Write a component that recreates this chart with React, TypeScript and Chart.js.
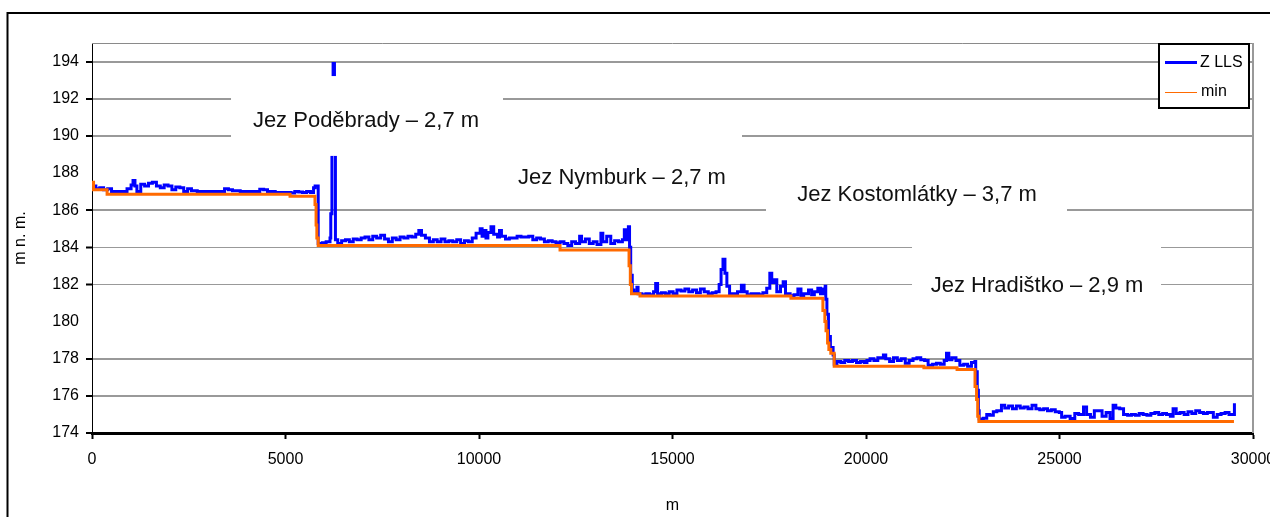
import { useEffect, useRef } from "react";
import Chart from "chart.js/auto";

// Distance along the river [m] and water level [m n. m.]
// Z LLS profile, split by reach between the weirs
const zllsReach1: [number, number][] = [
  [0, 187.3], [100, 187.15], [200, 187.2], [300, 187.1], [405, 187.15], [505, 187.0], [705, 187.0],
  [905, 187.15], [1010, 187.35], [1060, 187.6], [1110, 187.3], [1160, 187.0], [1260, 187.4],
  [1360, 187.3], [1460, 187.45], [1560, 187.5], [1665, 187.3], [1765, 187.2], [1865, 187.35],
  [1965, 187.3], [2065, 187.1], [2165, 187.25], [2270, 187.2], [2370, 187.0], [2470, 187.15],
  [2570, 187.05], [2720, 187.0], [3025, 187.0], [3225, 187.0], [3425, 187.15], [3525, 187.1],
  [3630, 187.05], [3830, 187.0], [4030, 187.0], [4235, 187.0], [4335, 187.12], [4435, 187.1],
  [4535, 187.0], [4735, 186.95], [4940, 186.95], [5040, 186.95], [5140, 186.92], [5240, 187.0],
  [5340, 186.98], [5440, 186.95], [5545, 187.0], [5645, 186.95], [5725, 187.2], [5765, 187.3],
];
const zllsReach2: [number, number][] = [
  [5845, 184.2], [5950, 184.25], [6050, 184.3], [6150, 184.5], [6170, 185.8], [6200, 189.0],
  [6230, 193.9], [6265, 189.0], [6290, 184.4], [6350, 184.2], [6450, 184.35], [6550, 184.4],
  [6650, 184.3], [6750, 184.45], [6850, 184.4], [6955, 184.5], [7055, 184.55], [7155, 184.4],
  [7255, 184.6], [7355, 184.5], [7460, 184.65], [7560, 184.45], [7660, 184.3], [7760, 184.5],
  [7860, 184.4], [7960, 184.55], [8060, 184.5], [8165, 184.6], [8265, 184.55], [8365, 184.7],
  [8445, 184.9], [8515, 184.65], [8615, 184.5], [8720, 184.3], [8820, 184.4], [8920, 184.3],
  [9020, 184.45], [9120, 184.3], [9220, 184.35], [9320, 184.3], [9425, 184.4], [9525, 184.2],
  [9625, 184.35], [9725, 184.3], [9825, 184.5], [9925, 184.75], [10030, 185.0], [10080, 184.6],
  [10130, 184.9], [10180, 184.5], [10230, 184.8], [10310, 185.1], [10380, 184.7], [10480, 184.55],
  [10530, 184.9], [10580, 184.6], [10685, 184.45], [10785, 184.5], [10885, 184.5], [10985, 184.6],
  [11085, 184.55], [11185, 184.55], [11285, 184.6], [11390, 184.4], [11490, 184.5], [11590, 184.45],
  [11690, 184.3], [11790, 184.35], [11890, 184.3], [11990, 184.25], [12095, 184.3], [12195, 184.2],
  [12295, 184.1], [12395, 184.3], [12495, 184.2], [12600, 184.6], [12650, 184.3], [12750, 184.45],
  [12850, 184.2], [12950, 184.3], [13050, 184.15], [13150, 184.75], [13200, 184.3], [13300, 184.6],
  [13405, 184.2], [13505, 184.35], [13605, 184.3], [13705, 184.4], [13755, 184.95], [13805, 184.4],
  [13860, 185.1], [13890, 184.0], [13920, 182.5],
];
const zllsReach3: [number, number][] = [
  [13960, 181.7], [14000, 181.55], [14080, 181.85], [14110, 181.5], [14210, 181.45], [14310, 181.5],
  [14410, 181.45], [14510, 181.6], [14565, 182.05], [14615, 181.5], [14715, 181.55], [14815, 181.5],
  [14915, 181.6], [15015, 181.5], [15115, 181.7], [15220, 181.65], [15320, 181.75], [15420, 181.6],
  [15520, 181.7], [15620, 181.55], [15720, 181.75], [15820, 181.6], [15925, 181.5], [16025, 181.55],
  [16125, 181.6], [16205, 182.0], [16255, 182.8], [16305, 183.35], [16355, 182.6], [16405, 181.9],
  [16475, 181.5], [16580, 181.5], [16680, 181.6], [16780, 181.95], [16850, 181.6], [16930, 181.45],
  [17030, 181.5], [17135, 181.5], [17235, 181.45], [17335, 181.55], [17435, 181.8], [17515, 182.6],
  [17565, 182.1], [17635, 182.25], [17695, 181.6], [17790, 181.9], [17860, 182.15], [17920, 181.5],
  [18040, 181.4], [18140, 181.45], [18240, 181.75], [18320, 181.4], [18390, 181.5], [18515, 181.7],
  [18595, 181.45], [18665, 181.6], [18755, 181.8], [18825, 181.5], [18895, 181.75], [18945, 181.9],
  [18960, 181.2], [18990, 180.4], [19030, 179.2], [19080, 178.6], [19150, 178.2],
];
const zllsReach4: [number, number][] = [
  [19180, 177.7], [19250, 177.85], [19350, 177.8], [19450, 177.9], [19550, 177.85], [19650, 177.9],
  [19755, 177.8], [19855, 177.85], [19955, 177.8], [20025, 177.9], [20105, 178.0], [20205, 177.9],
  [20305, 178.05], [20450, 178.2], [20510, 178.0], [20610, 177.85], [20710, 178.05], [20810, 177.9],
  [20910, 178.0], [21015, 177.75], [21115, 177.9], [21215, 178.0], [21315, 178.05], [21415, 177.95],
  [21515, 177.9], [21605, 177.65], [21720, 177.7], [21820, 177.75], [21920, 177.7], [22020, 177.9],
  [22080, 178.3], [22140, 177.95], [22220, 178.05], [22325, 177.9], [22425, 177.65], [22525, 177.7],
  [22625, 177.6], [22725, 177.8], [22815, 177.85], [22835, 177.3], [22875, 176.3], [22905, 175.2],
];
const zllsReach5: [number, number][] = [
  [22925, 174.75], [23030, 174.8], [23120, 175.0], [23200, 174.95], [23290, 175.15], [23380, 175.2],
  [23500, 175.5], [23585, 175.35], [23685, 175.45], [23785, 175.3], [23885, 175.45], [23985, 175.35],
  [24085, 175.4], [24185, 175.3], [24290, 175.5], [24390, 175.3], [24490, 175.25], [24590, 175.3],
  [24690, 175.2], [24790, 175.25], [24890, 175.15], [24995, 175.1], [25055, 174.85], [25145, 174.9],
  [25275, 174.78], [25395, 175.05], [25495, 175.0], [25620, 175.4], [25700, 175.0], [25800, 174.85],
  [25900, 175.2], [26000, 175.2], [26100, 174.9], [26205, 175.1], [26305, 174.78], [26385, 175.5],
  [26455, 175.35], [26555, 175.3], [26655, 175.0], [26760, 174.95], [26860, 175.0], [26960, 174.95],
  [27060, 175.05], [27160, 175.0], [27260, 174.95], [27360, 175.05], [27465, 175.1], [27565, 175.0],
  [27665, 175.05], [27765, 175.0], [27865, 174.9], [27935, 175.3], [28015, 175.05], [28115, 175.1],
  [28220, 175.0], [28320, 175.15], [28420, 175.05], [28520, 175.2], [28620, 175.1], [28720, 175.05],
  [28820, 175.1], [28975, 174.85], [29075, 175.0], [29175, 175.05], [29280, 175.1], [29380, 175.0],
  [29480, 175.0], [29520, 175.6],
];
// "min" profile (stepwise)
const minProfile: [number, number][] = [
  [0, 187.5], [40, 187.1], [390, 186.85], [5117, 186.75], [5762, 186.3], [5790, 185.2],
  [5810, 184.5], [5845, 184.1], [12094, 183.85], [13877, 183.0], [13910, 182.0], [13940, 181.5],
  [14160, 181.38], [18060, 181.25], [18886, 180.6], [18937, 180.0], [18967, 179.5], [19007, 178.85],
  [19040, 178.5], [19090, 178.3], [19178, 177.6], [21496, 177.52], [22353, 177.42], [22817, 176.5],
  [22857, 175.8], [22887, 174.9], [22917, 174.62], [29508, 174.62],
];

const seriesNames = ["Z LLS", "min"];
const weirLabels = [
  "Jez Poděbrady – 2,7 m",
  "Jez Nymburk – 2,7 m",
  "Jez Kostomlátky – 3,7 m",
  "Jez Hradištko – 2,9 m",
];
const xTitle = "m";
const yTitle = "m n. m.";

// layout of the weir captions, in data units: centre [x, y], box [x0, x1, yTop, yBottom]
const weirLayout = [
  { c: [7080, 190.8], b: [3592, 10620, 193.22, 188.92] },
  { c: [13695, 187.73], b: [10026, 16796, 191.39, 186.28] },
  { c: [21318, 186.82], b: [17416, 25194, 188.7, 184.39] },
  { c: [24419, 181.92], b: [21189, 27623, 184.23, 180.89] },
];

const FONT = '"Liberation Sans", Arial, sans-serif';
const BLUE = "#0000ff";
const ORANGE = "#ff6a00";

const decor = {
  id: "decor",
  beforeDraw(chart: any) {
    const { ctx, width, height } = chart;
    ctx.save();
    ctx.fillStyle = "#fff";
    ctx.fillRect(0, 0, width, height);
    ctx.strokeStyle = "#000";
    ctx.lineWidth = 2;
    ctx.beginPath();
    ctx.moveTo(7.5, height + 5);
    ctx.lineTo(7.5, 13);
    ctx.lineTo(width + 5, 13);
    ctx.stroke();
    ctx.restore();
  },
  beforeDatasetsDraw(chart: any) {
    const { ctx, chartArea: a } = chart;
    ctx.save();
    ctx.strokeStyle = "#8a8a8a";
    ctx.lineWidth = 1;
    ctx.beginPath();
    ctx.moveTo(a.left, a.top + 0.5);
    ctx.lineTo(a.right, a.top + 0.5);
    ctx.stroke();
    ctx.strokeStyle = "#999";
    ctx.lineWidth = 2;
    ctx.beginPath();
    ctx.moveTo(a.right, a.top);
    ctx.lineTo(a.right, a.bottom);
    ctx.stroke();
    ctx.restore();
  },
  afterDatasetsDraw(chart: any) {
    const { ctx, chartArea: a } = chart;
    const xs = chart.scales.x;
    const ys = chart.scales.y;
    ctx.save();
    weirLayout.forEach((w) => {
      const x0 = xs.getPixelForValue(w.b[0]);
      const x1 = xs.getPixelForValue(w.b[1]);
      const y0 = ys.getPixelForValue(w.b[2]);
      const y1 = ys.getPixelForValue(w.b[3]);
      ctx.fillStyle = "#fff";
      ctx.fillRect(x0, y0, x1 - x0, y1 - y0);
    });
    ctx.fillStyle = "#111";
    ctx.font = `22px ${FONT}`;
    ctx.textAlign = "center";
    ctx.textBaseline = "middle";
    weirLayout.forEach((w, i) => {
      ctx.fillText(weirLabels[i], xs.getPixelForValue(w.c[0]), ys.getPixelForValue(w.c[1]));
    });
    // legend
    const lw = 90, lh = 64;
    const lx = a.right - 4 - lw;
    const ly = a.top + 1;
    ctx.fillStyle = "#fff";
    ctx.fillRect(lx, ly, lw, lh);
    ctx.strokeStyle = "#000";
    ctx.lineWidth = 2;
    ctx.strokeRect(lx, ly, lw, lh);
    ctx.strokeStyle = BLUE;
    ctx.lineWidth = 3;
    ctx.beginPath();
    ctx.moveTo(lx + 6, ly + 18.5);
    ctx.lineTo(lx + 38, ly + 18.5);
    ctx.stroke();
    ctx.strokeStyle = ORANGE;
    ctx.lineWidth = 1;
    ctx.beginPath();
    ctx.moveTo(lx + 6, ly + 48.5);
    ctx.lineTo(lx + 38, ly + 48.5);
    ctx.stroke();
    ctx.fillStyle = "#000";
    ctx.font = `16px ${FONT}`;
    ctx.textAlign = "left";
    ctx.fillText(seriesNames[0], lx + 41, ly + 19);
    ctx.fillText(seriesNames[1], lx + 42, ly + 48);
    ctx.restore();
  },
};

const hiddenLevels = [180, 188];
const thinLevels = [182, 184];

export default function App() {
  const ref = useRef<HTMLCanvasElement>(null);
  useEffect(() => {
    const canvas = ref.current;
    if (!canvas) return;
    const zlls = [...zllsReach1, ...zllsReach2, ...zllsReach3, ...zllsReach4, ...zllsReach5];
    const chart = new Chart(canvas, {
      type: "line",
      data: {
        datasets: [
          {
            label: seriesNames[1],
            data: minProfile.map(([x, y]) => ({ x, y })),
            borderColor: ORANGE,
            borderWidth: 3,
            pointRadius: 0,
            stepped: "before",
            order: 0,
          },
          {
            label: seriesNames[0],
            data: zlls.map(([x, y]) => ({ x, y })),
            borderColor: BLUE,
            borderWidth: 3,
            pointRadius: 0,
            stepped: "before",
            order: 1,
          },
        ],
      },
      options: {
        responsive: false,
        animation: false,
        devicePixelRatio: 1,
        layout: { padding: { left: 0, top: 43, right: 17, bottom: 0 } },
        plugins: { legend: { display: false }, tooltip: { enabled: false } },
        elements: { line: { tension: 0 } },
        scales: {
          x: {
            type: "linear",
            min: 0,
            max: 30000,
            ticks: {
              stepSize: 5000,
              color: "#000",
              font: { family: FONT, size: 16 },
              padding: 11,
              maxRotation: 0,
              autoSkip: false,
              callback: (v: any) => String(v),
            },
            grid: {
              drawOnChartArea: false,
              drawTicks: true,
              tickLength: 6,
              tickColor: "#000",
              tickWidth: 2,
              color: "#000",
            },
            border: { display: true, color: "#000", width: 3 },
            title: {
              display: true,
              text: xTitle,
              color: "#000",
              font: { family: FONT, size: 16 },
              padding: { top: 0, bottom: 2 },
            },
            afterFit: (s: any) => {
              s.height = 84;
              s.paddingLeft = 0;
              s.paddingRight = 0;
            },
          },
          y: {
            type: "linear",
            min: 174,
            max: 195,
            ticks: {
              stepSize: 2,
              includeBounds: false,
              color: "#000",
              font: { family: FONT, size: 16 },
              padding: 7,
            },
            grid: {
              color: (c: any) => (hiddenLevels.includes(c.tick?.value) ? "rgba(0,0,0,0)" : "#999"),
              lineWidth: (c: any) => (thinLevels.includes(c.tick?.value) ? 1 : 2),
              tickLength: 6,
              tickColor: (c: any) => (hiddenLevels.includes(c.tick?.value) ? "rgba(0,0,0,0)" : "#000"),
              tickWidth: 2,
            },
            border: { display: true, color: "#000", width: 1 },
            title: {
              display: true,
              text: yTitle,
              color: "#000",
              font: { family: FONT, size: 16 },
              padding: { top: 11, bottom: 0 },
            },
            afterFit: (s: any) => {
              s.width = 92;
              s.paddingTop = 0;
              s.paddingBottom = 0;
            },
          },
        },
      } as any,
      plugins: [decor],
    });
    return () => chart.destroy();
  }, []);
  return (
    <div style={{ position: "absolute", left: 0, top: 0, width: 1270, height: 517, background: "#fff" }}>
      <canvas ref={ref} width={1270} height={517} style={{ display: "block" }} />
    </div>
  );
}
